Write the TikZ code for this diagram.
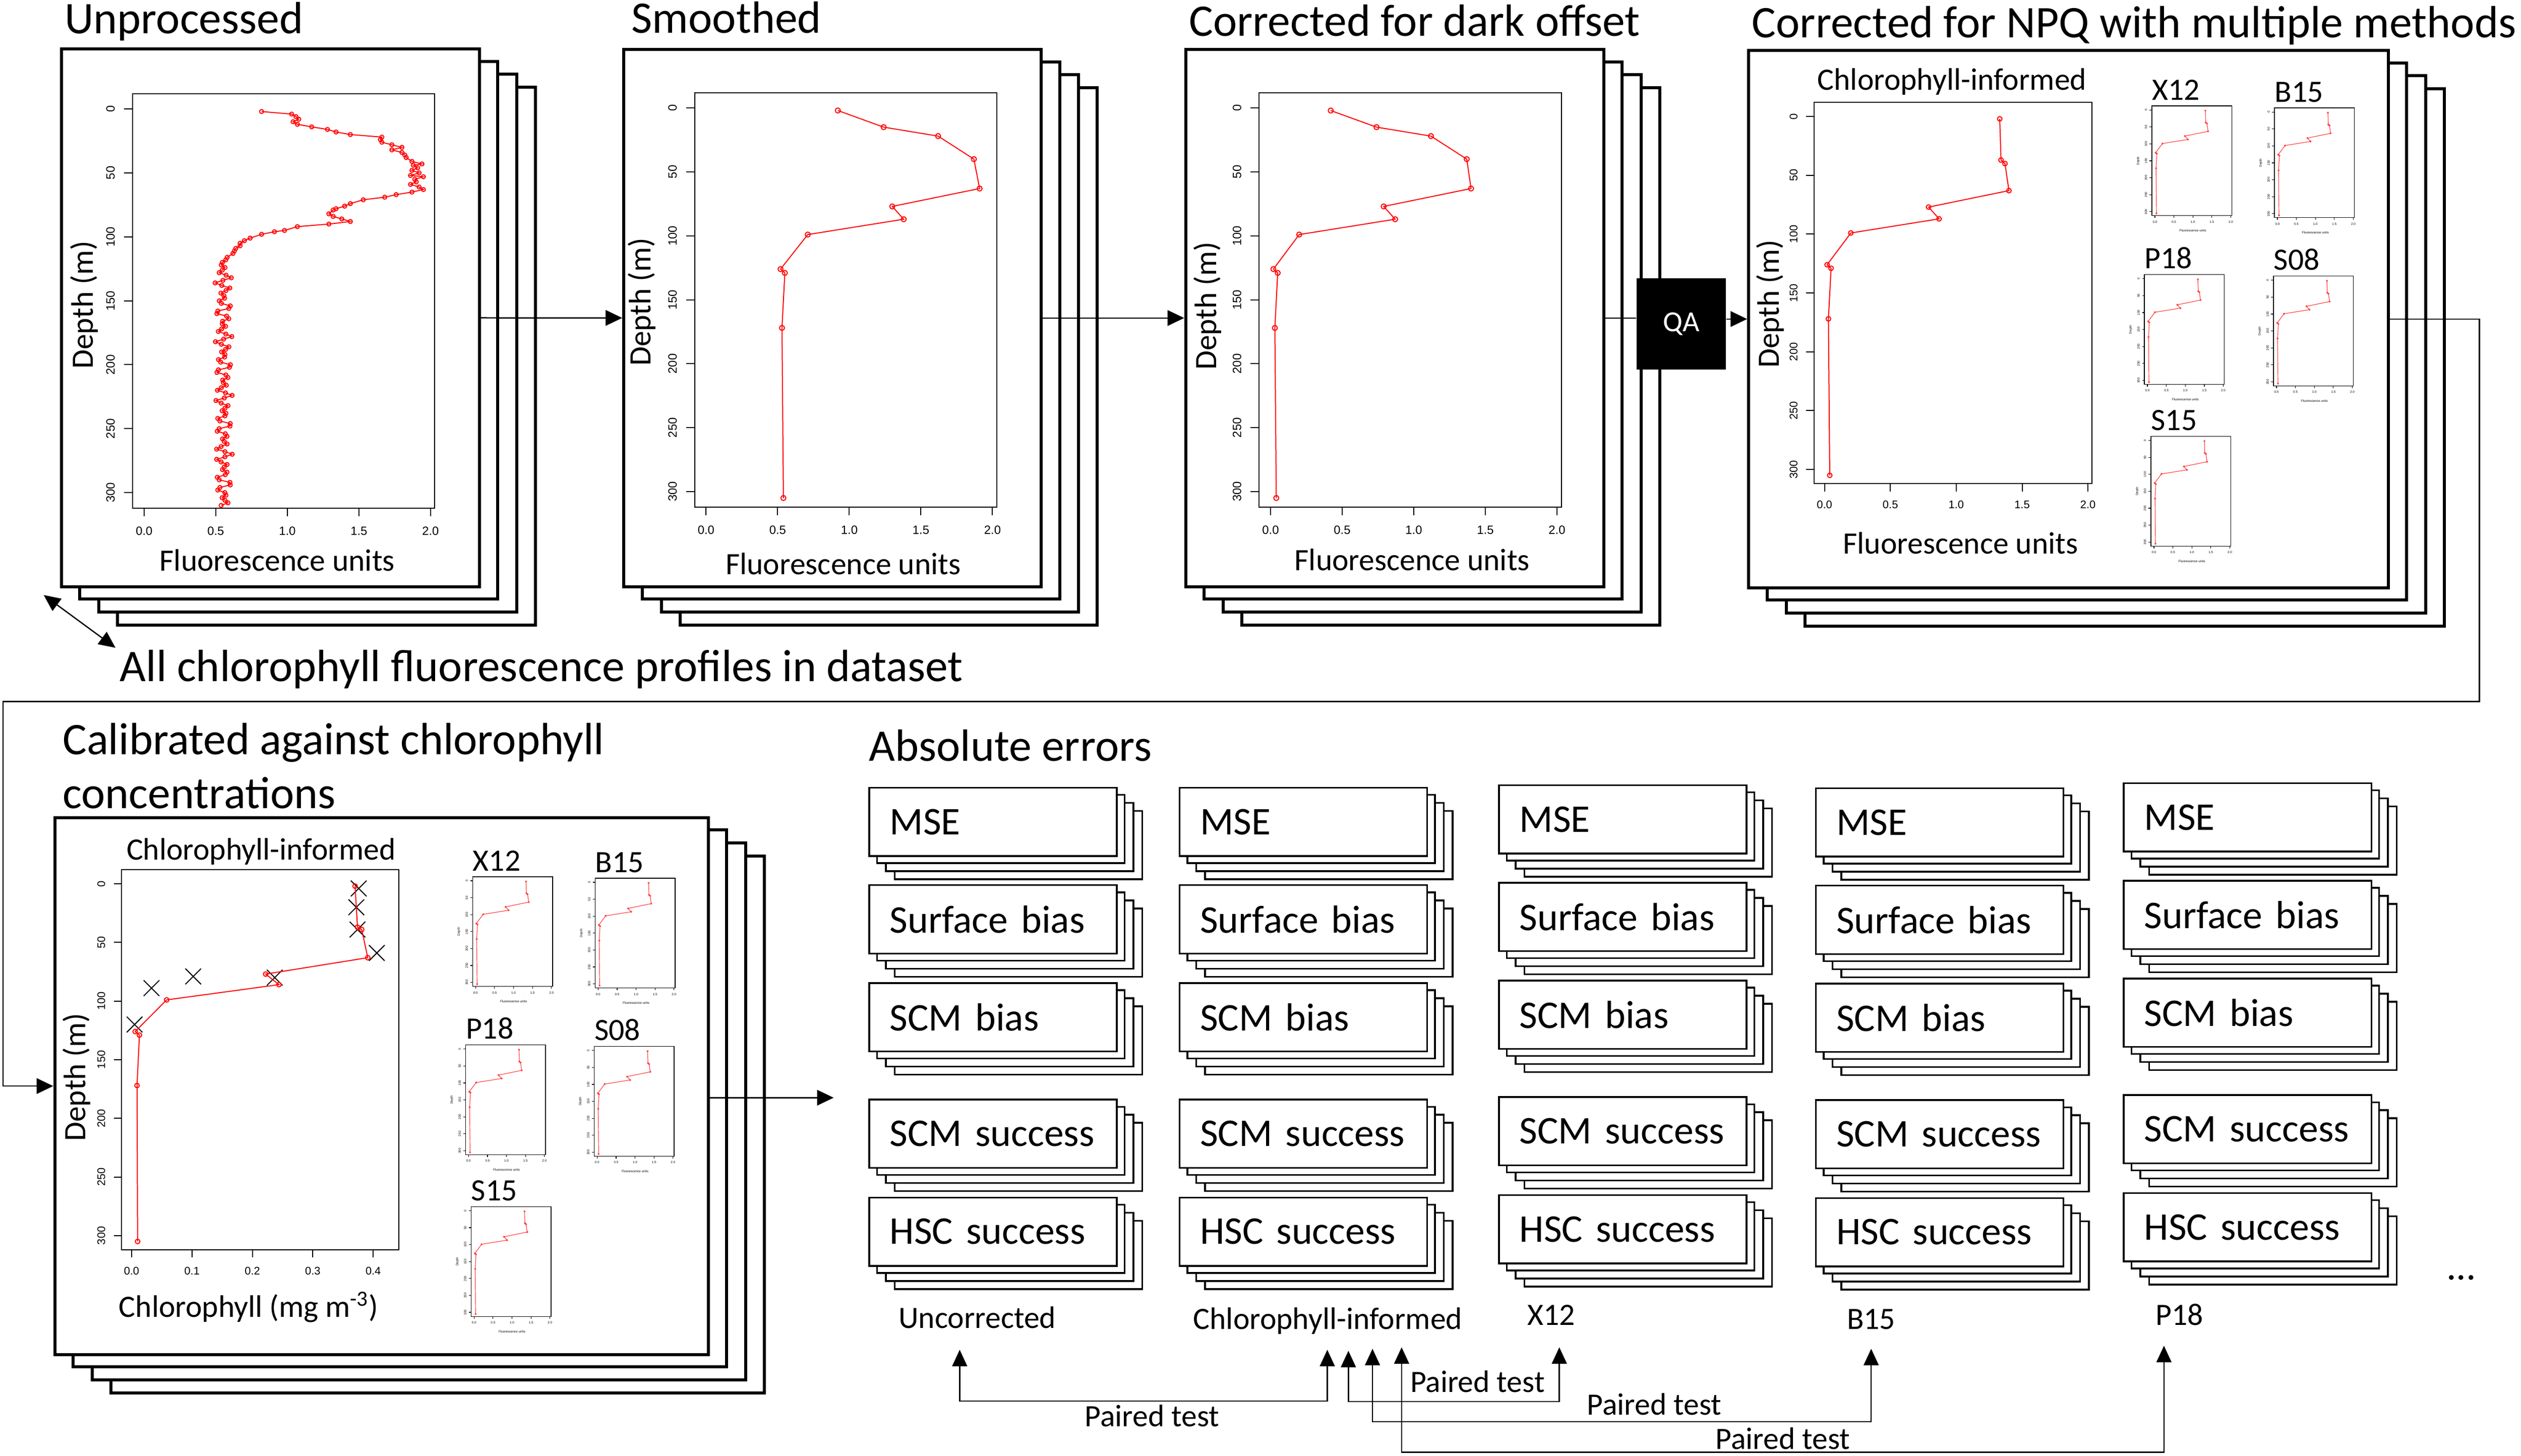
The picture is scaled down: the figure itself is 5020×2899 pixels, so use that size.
\documentclass[tikz,border=0pt]{standalone}
\usepackage{fontspec}
\setmainfont{Carlito}
\newfontfamily\arialfont{Liberation Sans}
\usetikzlibrary{arrows.meta}

% profiles (value/depth)
\def\unprocdata{0.82/2,1.03/4,1.06/6,1.08/8,1.04/10,1.07/12,1.17/14,1.28/16,1.34/18,1.44/20,1.66/22,1.65/24,1.66/26,1.73/28,1.80/30,1.73/32,1.80/34,1.82/36,1.83/38,1.87/41,1.94/43,1.88/44,1.91/46,1.87/48,1.92/50,1.86/52,1.95/53,1.89/55,1.90/57,1.86/59,1.92/61,1.95/63,1.87/65,1.76/67,1.68/69,1.53/71,1.44/74,1.40/76,1.34/78,1.32/79,1.29/82,1.32/84,1.38/86,1.44/88,1.29/90,1.07/92,0.98/95,0.91/96,0.82/98,0.74/101,0.70/103,0.67/105,0.67/107,0.64/109,0.63/111,0.62/113,0.58/116,0.57/118}
\def\smoothdata{0.92/2,1.24/15,1.62/22,1.87/40,1.91/63,1.30/77,1.38/87,0.71/99,0.52/126,0.55/129,0.53/172,0.54/305}
\def\darkdata{0.42/2,0.74/15,1.12/22,1.37/40,1.40/63,0.79/77,0.87/87,0.20/99,0.02/126,0.05/129,0.03/172,0.04/305}
\def\npqdata{1.33/2,1.34/37,1.37/40,1.40/63,0.79/77,0.87/87,0.20/99,0.02/126,0.05/129,0.03/172,0.04/305}
\def\chldata{0.370/2,0.374/37,0.381/39,0.391/63,0.222/77,0.244/86,0.058/99,0.006/126,0.013/129,0.009/172,0.010/305}
\def\chlxdata{0.376/4,0.372/20,0.374/39,0.406/59,0.102/79,0.033/89,0.237/80,0.005/120}
\def\dotr{0.05cm}

\newcommand\plotaxes[3]{%
  \draw[axisline] (#1,-12) rectangle (#2,312);
  \foreach \t/\l in {#3} {
    \draw[axisline] (\t,312) -- ++(0,-0.17cm);
    \path (\t,312) ++(0,-0.46cm) node[ticklab]{\l};
  }
  \foreach \d in {0,50,...,300} {
    \draw[axisline] (#1,\d) -- ++(-0.17cm,0);
    \path (#1,\d) ++(-0.44cm,0) node[ticklab,rotate=90]{\d};
  }
}
\newcommand\profile[1]{%
  \draw[redline] \foreach \v/\d [count=\i] in #1 {\ifnum\i=1 (\v,\d) \else -- (\v,\d) \fi};
  \foreach \v/\d in #1 \draw[redline] (\v,\d) circle[radius=\dotr];
}
\newcommand\backsheets[4]{%
  \foreach \dx/\dy in {115/80,78/54,40/28}
    \draw[sheet] ({#1+\dx},{#2+\dy}) rectangle ({#3+\dx},{#4+\dy});
}
\newcommand\miniplot[4]{%
  \node[lab,anchor=base west] (#1) at (#2,{#3-12}) {#4};
  \begin{scope}[shift={({#2+6},{#3+8})},scale=0.265,transform shape,x=2.85cm,y=-0.02545cm,
      axisline/.append style={line width=0.012cm},redline/.append style={red!75,line width=0.012cm}]
    \plotaxes{-0.08}{2.03}{0/0.0,0.5/0.5,1/1.0,1.5/1.5,2/2.0}
    \path (1,312) ++(0,-1.13cm) node[ticklab]{Fluorescence units};
    \path (-0.08,150) ++(-1.02cm,0) node[ticklab,rotate=90]{Depth};
    \profile\npqdata
  \end{scope}
}

\begin{document}
\begin{tikzpicture}[x=0.01cm,y=-0.01cm,
    sheet/.style={draw,line width=0.06cm,fill=white,inner sep=0pt},
    errsheet/.style={draw,line width=0.035cm,fill=white},
    errbox/.style={errsheet,minimum width=4.93cm,minimum height=1.36cm,text width=4.11cm,
      inner xsep=0.41cm,inner ysep=0pt,align=left,font=\fontsize{22.2}{26}\selectfont},
    title/.style={font=\fontsize{25.6}{30}\selectfont,anchor=base west,inner sep=0pt},
    lab/.style={font=\fontsize{17.6}{21}\selectfont,inner sep=0pt},
    ticklab/.style={font=\arialfont\fontsize{6.8}{8}\selectfont,inner sep=0pt},
    axisline/.style={line width=0.02cm},
    redline/.style={red,line width=0.02cm},
    cross/.style={line width=0.02cm},
    qabox/.style={fill=black,text=white,minimum width=1.78cm,minimum height=1.82cm,
      font=\fontsize{16.5}{20}\selectfont},
    link/.style={line width=0.025cm},
    flow/.style={link,-{Triangle[length=0.33cm,width=0.31cm]}},
    pair/.style={link,{Triangle[length=0.33cm,width=0.3cm]}-{Triangle[length=0.33cm,width=0.3cm]}}
  ]
  \useasboundingbox (0,0) rectangle (5020,2899);

  % top row of sheets
  \backsheets{119}{94}{951}{1165}
  \node[sheet,anchor=north west,minimum width=8.32cm,minimum height=10.71cm] (unproc) at (119,94) {};
  \backsheets{1239}{95}{2070}{1165}
  \node[sheet,anchor=north west,minimum width=8.31cm,minimum height=10.70cm] (smooth) at (1239,95) {};
  \backsheets{2358}{95}{3190}{1165}
  \node[sheet,anchor=north west,minimum width=8.32cm,minimum height=10.70cm] (dark) at (2358,95) {};
  \backsheets{3479}{97}{4752}{1167}
  \node[sheet,anchor=north west,minimum width=12.73cm,minimum height=10.70cm] (npq) at (3479,97) {};

  \node[title] (t-unproc) at (128,67) {Unprocessed};
  \node[title] (t-smooth) at (1257,66) {Smoothed};
  \node[title] (t-dark) at (2367,72) {Corrected for dark offset};
  \node[title] (t-npq) at (3488,75) {Corrected for NPQ with multiple methods};

  % unprocessed
  \begin{scope}[shift={(287,217)},x=2.85cm,y=-0.02545cm]
    \def\dotr{0.04cm}
    \plotaxes{-0.08}{2.03}{0/0.0,0.5/0.5,1/1.0,1.5/1.5,2/2.0}
    \profile\unprocdata
    \draw[redline] (0.57,118) -- plot[domain=120:310,samples=96] ({0.555+0.035*sin(47*\x)+0.025*sin(31*\x)},\x);
    \foreach \d in {120,122,...,310} {
      \pgfmathsetmacro\v{0.555+0.035*sin(47*\d)+0.025*sin(31*\d)}
      \draw[redline] (\v,\d) circle[radius=\dotr];
    }
  \end{scope}
  \node[lab,rotate=90] (d-unproc) at (168,607) {Depth (m)};
  \node[lab] (f-unproc) at (552,1116) {Fluorescence units};

  % smoothed
  \begin{scope}[shift={(1406,215)},x=2.85cm,y=-0.02545cm]
    \plotaxes{-0.08}{2.03}{0/0.0,0.5/0.5,1/1.0,1.5/1.5,2/2.0}
    \profile\smoothdata
  \end{scope}
  \node[lab,rotate=90] (d-smooth) at (1278,601) {Depth (m)};
  \node[lab] (f-smooth) at (1679,1123) {Fluorescence units};

  % dark offset
  \begin{scope}[shift={(2530,215)},x=2.85cm,y=-0.02545cm]
    \plotaxes{-0.08}{2.03}{0/0.0,0.5/0.5,1/1.0,1.5/1.5,2/2.0}
    \profile\darkdata
  \end{scope}
  \node[lab,rotate=90] (d-dark) at (2404,609) {Depth (m)};
  \node[lab] (f-dark) at (2812,1115) {Fluorescence units};

  % NPQ
  \begin{scope}[shift={(3633,232)},scale=0.92,transform shape,x=2.85cm,y=-0.02545cm]
    \plotaxes{-0.08}{2.03}{0/0.0,0.5/0.5,1/1.0,1.5/1.5,2/2.0}
    \profile\npqdata
  \end{scope}
  \node[lab] (c-npq) at (3887,163) {Chlorophyll-informed};
  \node[lab,rotate=90] (d-npq) at (3525,605) {Depth (m)};
  \node[lab] (f-npq) at (3904,1082) {Fluorescence units};
  \miniplot{n-x12}{4285}{211}{X12}
  \miniplot{n-b15}{4529}{215}{B15}
  \miniplot{n-p18}{4270}{547}{P18}
  \miniplot{n-s08}{4527}{550}{S08}
  \miniplot{n-s15}{4283}{869}{S15}

  \node[qabox] (qa) at (3348,645) {QA};

  % whole dataset
  \coordinate (stkA) at (87,1185);
  \coordinate (stkB) at (230,1290);
  \node[title] (t-all) at (238,1357) {All chlorophyll fluorescence profiles in dataset};

  % calibrated
  \node[title] (t-cal1) at (124,1502) {Calibrated against chlorophyll};
  \node[title] (t-cal2) at (124,1610) {concentrations};
  \backsheets{106}{1625}{1407}{2694}
  \node[sheet,anchor=north west,minimum width=13.01cm,minimum height=10.69cm] (calib) at (106,1625) {};
  \begin{scope}[shift={(262,1760)},scale=0.917,transform shape,x=13.11cm,y=-0.02545cm]
    \plotaxes{-0.0166}{0.4426}{0/0.0,0.1/0.1,0.2/0.2,0.3/0.3,0.4/0.4}
    \foreach \v/\d in \chlxdata
      \draw[cross] (\v,\d) ++(-0.17cm,-0.17cm) -- ++(0.34cm,0.34cm) ++(0,-0.34cm) -- ++(-0.34cm,0.34cm);
    \profile\chldata
  \end{scope}
  \node[lab] (c-calib) at (520,1696) {Chlorophyll-informed};
  \node[lab,rotate=90] (d-calib) at (153,2145) {Depth (m)};
  \node[lab] (f-calib) at (495,2603) {Chlorophyll (mg m\textsuperscript{-3})};
  \miniplot{c-x12}{941}{1746}{X12}
  \miniplot{c-b15}{1185}{1749}{B15}
  \miniplot{c-p18}{927}{2081}{P18}
  \miniplot{c-s08}{1183}{2084}{S08}
  \miniplot{c-s15}{938}{2403}{S15}

  % absolute errors
  \node[title] (t-err) at (1730,1516) {Absolute errors};
  \foreach \c/\cx/\cy in {1/1729/0,2/2347/0,3/2983/-5,4/3614/1,5/4227/-9}
    \foreach \r/\ry/\lab in {1/1567/MSE,2/1761/Surface bias,3/1956/SCM bias,4/2188/SCM success,5/2383/HSC success} {
      \foreach \o in {3,2,1}
        \draw[errsheet] ({\cx+17.5*\o},{\ry+\cy+16*\o}) rectangle ++(493,136);
      \node[errbox,anchor=north west] (err\c\r) at (\cx,{\ry+\cy}) {\lab};
    }
  \node[font=\fontsize{22.2}{26}\selectfont,inner sep=0pt] (more) at (4901,2545) {...};

  \node[lab,anchor=base] (m-unc) at (1946,2645) {Uncorrected};
  \node[lab,anchor=base] (m-chl) at (2644,2647) {Chlorophyll-informed};
  \node[lab,anchor=base] (m-x12) at (3089,2639) {X12};
  \node[lab,anchor=base] (m-b15) at (3726,2647) {B15};
  \node[lab,anchor=base] (m-p18) at (4340,2639) {P18};

  % paired tests
  \coordinate (uA) at (1911,2688);
  \coordinate (cA) at (2643,2688);
  \coordinate (kA) at (2643,2790);
  \coordinate (cB) at (2685,2690);
  \coordinate (xB) at (3105,2683);
  \coordinate (kB) at (3105,2791);
  \coordinate (cC) at (2733,2686);
  \coordinate (bC) at (3726,2686);
  \coordinate (kC) at (3726,2831);
  \coordinate (cD) at (2791,2683);
  \coordinate (pD) at (4309,2680);
  \coordinate (kD) at (4309,2892);
  \draw[pair] (uA) |- (kA) -- (cA);
  \draw[pair] (cB) |- (kB) -- (xB);
  \draw[pair] (cC) |- (kC) -- (bC);
  \draw[pair] (cD) |- (kD) -- (pD);
  \node[lab,anchor=base] (p-a) at (2294,2841) {Paired test};
  \node[lab,anchor=base] (p-b) at (2942,2773) {Paired test};
  \node[lab,anchor=base] (p-c) at (3294,2818) {Paired test};
  \node[lab,anchor=base] (p-d) at (3550,2886) {Paired test};

  % connectors
  \coordinate (bendR) at (4937,1397);
  \coordinate (bendL) at (6,1397);
  \coordinate (errin) at (1660,2186);
  \draw[flow] (unproc) -- (smooth);
  \draw[flow] (smooth) -- (dark);
  \draw[link] (dark) -- (dark -| qa.west);
  \draw[flow] (qa.east |- npq) -- (npq);
  \draw[flow] (npq) -- (npq -| bendR) -- (bendR) -- (bendL) |- (calib);
  \draw[flow] (errin -| calib.east) -- (errin);
  \draw[pair] (stkA) -- (stkB);
\end{tikzpicture}
\end{document}
